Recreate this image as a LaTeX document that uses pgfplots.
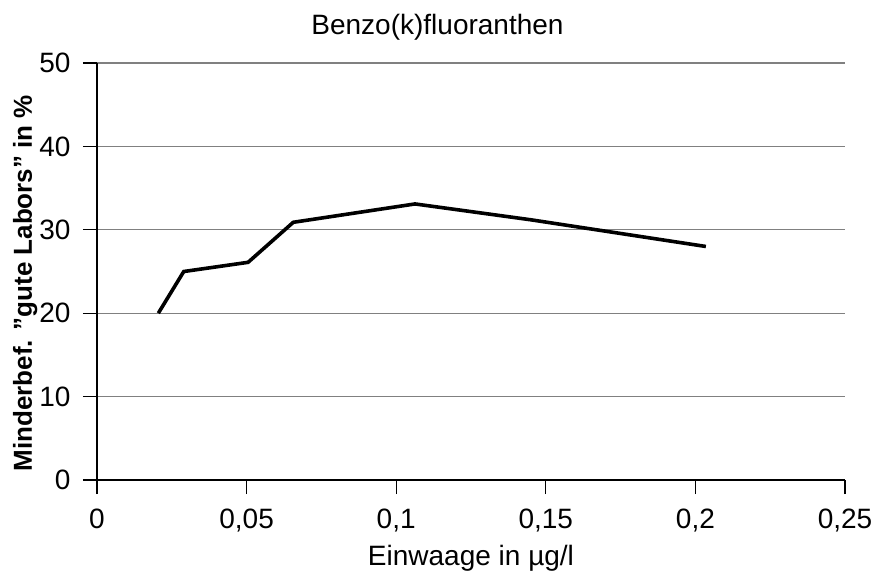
\documentclass[border=0pt]{standalone}
\usepackage{fontspec}
\setmainfont{Liberation Sans}
\usepackage{pgfplots}
\pgfplotsset{compat=1.18}
\begin{document}
\begin{tikzpicture}[x=1pt,y=1pt]
\useasboundingbox (-97,-93) rectangle (778,480);
\begin{axis}[
  at={(0,0)}, anchor=south west,
  scale only axis, width=748pt, height=417pt,
  xmin=0, xmax=0.25, ymin=0, ymax=50,
  axis x line=bottom, axis y line=left,
  axis line style={-, line width=1.2pt},
  xtick={0,0.05,0.1,0.15,0.2,0.25},
  xticklabels={0,{0,05},{0,1},{0,15},{0,2},{0,25}},
  ytick={0,10,20,30,40,50},
  tick align=outside, major tick length=14pt,
  tick style={black, line width=1.2pt},
  ymajorgrids, grid style={gray, line width=1.2pt},
  ticklabel style={font=\fontsize{28}{30}\selectfont},
  xticklabel style={yshift=-11pt},
  yticklabel style={xshift=-9pt},
  /pgf/number format/assume math mode=true,
  xlabel={Einwaage in µg/l},
  xlabel style={font=\fontsize{28}{30}\selectfont, at={(axis description cs:0.5,0)}, anchor=base, yshift=-85pt},
  ylabel={Minderbef. {\char34}gute Labors{\char34} in \%},
  ylabel style={font=\fontsize{26}{28}\selectfont\bfseries, at={(axis description cs:0,0.472)}, anchor=base, yshift=65pt},
  title={Benzo(k)fluoranthen},
  title style={font=\fontsize{28}{30}\selectfont, at={(axis description cs:0.4552,1)}, anchor=base, yshift=22pt},
  clip=false,
]
\addplot[black, line width=3.6pt, line join=miter] coordinates {
(0.0205,20) (0.029,25) (0.0505,26.1) (0.0656,30.9) (0.1063,33.1) (0.145,31.2) (0.2035,28.0)
};
\end{axis}
\end{tikzpicture}
\end{document}
